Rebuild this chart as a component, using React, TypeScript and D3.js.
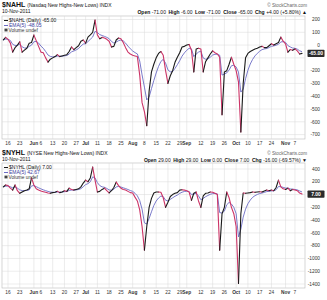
import React from "react";
import * as d3 from "d3";

// ---------- data ----------
const START_DATE = "2011-05-12";
const END_DATE = "2011-11-10";
const HOLIDAYS = ["2011-05-30", "2011-07-04", "2011-09-05"];

// $NAHL daily close (Nasdaq New Highs - New Lows)
const NAHL_VALUES = [
  40, 60, 45, 15, -55, -20, 0, 25, -55, -40,
  -25, 15, 20, 78, 35, -10, -55, -60, -100, -133,
  -110, -100, -90, -75, -90, -85, -80, -75, -50, -15,
  -35, -20, -5, 30, 40, 15, 62, 80, 100, 195,
  80, 50, 60, 55, 45, 30, -15, -10, 40, 55,
  50, 20, -20, -55, -70, -80, -85, -90, -235, -450,
  -520, -630, -360, -210, -150, -100, -65, -50, -80, -200,
  -300, -240, -200, -135, -95, -60, -15, -10, 0, 5,
  -40, -210, -30, -25, -30, -210, -130, -100, -70, -45,
  -60, -70, -95, -545, -210, -200, -150, -95, -150, -200,
  -290, -680, -300, -100, -65, -50, -40, -30, -25, -15,
  -10, -20, -20, -5, 10, 0, 10, 20, 62, 30,
  10, -55, -35, -40, -30, -45, -70, -65,
];

// $NYHL daily close (NYSE New Highs - New Lows)
const NYHL_VALUES = [
  120, 150, 140, 100, 70, 150, 60, 20, 40, 60,
  70, 90, 260, 150, 90, 70, 55, 45, 35, 25,
  20, 30, 35, 50, 30, 40, 60, 50, 100, 80,
  70, 80, 90, 120, 180, 225, 200, 260, 430, 225,
  40, 50, 80, 100, 60, 25, 60, 110, 195, 140,
  100, 80, 70, 50, 30, 25, -40, -100, -240, -500,
  -870, -500, -200, -60, 25, 40, 40, 35, -50, -200,
  -120, -30, 0, 20, 30, 70, 75, 70, 60, 40,
  -90, 20, 40, -100, -200, -20, 20, 25, 40, 35,
  20, 0, -870, -300, -200, 40, -50, -200, -300, -500,
  -1390, -300, 25, 20, 25, 30, 40, 35, 40, 45,
  40, 55, 70, 60, 70, 60, 110, 225, 120, 90,
  80, 100, 60, 80, 70, 60, 23, 7,
];

const X_TICKS = [
  { date: "2011-05-16", label: "16", bold: false },
  { date: "2011-05-23", label: "23", bold: false },
  { date: "2011-06-01", label: "Jun", bold: true },
  { date: "2011-06-06", label: "6", bold: false },
  { date: "2011-06-13", label: "13", bold: false },
  { date: "2011-06-20", label: "20", bold: false },
  { date: "2011-06-27", label: "27", bold: false },
  { date: "2011-07-01", label: "Jul", bold: true },
  { date: "2011-07-11", label: "11", bold: false },
  { date: "2011-07-18", label: "18", bold: false },
  { date: "2011-07-25", label: "25", bold: false },
  { date: "2011-08-01", label: "Aug", bold: true },
  { date: "2011-08-08", label: "8", bold: false },
  { date: "2011-08-15", label: "15", bold: false },
  { date: "2011-08-22", label: "22", bold: false },
  { date: "2011-08-29", label: "29", bold: false },
  { date: "2011-09-01", label: "Sep", bold: true },
  { date: "2011-09-12", label: "12", bold: false },
  { date: "2011-09-19", label: "19", bold: false },
  { date: "2011-09-26", label: "26", bold: false },
  { date: "2011-10-03", label: "Oct", bold: true },
  { date: "2011-10-10", label: "10", bold: false },
  { date: "2011-10-17", label: "17", bold: false },
  { date: "2011-10-24", label: "24", bold: false },
  { date: "2011-11-01", label: "Nov", bold: true },
  { date: "2011-11-07", label: "7", bold: false },
];

const TOP_Y_TICKS = [200, 100, 0, -100, -200, -300, -400, -500, -600, -700];
const BOTTOM_Y_TICKS = [400, 200, 0, -200, -400, -600, -800, -1000, -1200, -1400];

const TOP_INFO = {
  symbol: "$NAHL",
  name: "(Nasdaq New Highs-New Lows) INDX",
  date: "10-Nov-2011",
  ohlc: [["Open", "-71.00"], ["High", "-6.00"], ["Low", "-71.00"], ["Close", "-65.00"], ["Chg", "+4.00 (+5.80%) \u25B2"]],
  legendMain: "$NAHL (Daily) -65.00",
  legendEma: "EMA(5) -48.05",
  last: "-65.00",
};
const BOTTOM_INFO = {
  symbol: "$NYHL",
  name: "(NYSE New Highs-New Lows) INDX",
  date: "10-Nov-2011",
  ohlc: [["Open", "29.00"], ["High", "29.00"], ["Low", "0.00"], ["Close", "7.00"], ["Chg", "-16.00 (-69.57%) \u25BC"]],
  legendMain: "$NYHL (Daily) 7.00",
  legendEma: "EMA(5) 42.67",
  last: "7.00",
};

const EMA_PERIOD = 5;

// ---------- helpers ----------
const fmt = d3.timeFormat("%Y-%m-%d");
const parse = d3.timeParse("%Y-%m-%d");
const tradingDays = d3
  .timeDay.range(parse(START_DATE)!, d3.timeDay.offset(parse(END_DATE)!, 1))
  .filter((d) => d.getDay() !== 0 && d.getDay() !== 6 && !HOLIDAYS.includes(fmt(d)))
  .map(fmt);

function ema(values: number[], period: number) {
  const k = 2 / (period + 1);
  const out: number[] = [];
  values.forEach((v, i) => out.push(i === 0 ? v : out[i - 1] + k * (v - out[i - 1])));
  return out;
}

const FONT = "'Liberation Sans', Arial, sans-serif";
const UP = "#1a1a1a";
const DOWN = "#cc3366";
const EMA_COLOR = "#6b6bc4";
const GRID = "#d9d9d9";

const PLOT_L = 2;
const PLOT_R = 305;

const x = d3.scalePoint<string>().domain(tradingDays).range([3.3, 302]);

type PanelProps = {
  values: number[];
  info: typeof TOP_INFO;
  yTicks: number[];
  yDomain: [number, number];
  yRange: [number, number];
  top: number;
  plotTop: number;
  plotBottom: number;
};

function Panel({ values, info, yTicks, yDomain, yRange, top, plotTop, plotBottom }: PanelProps) {
  const y = d3.scaleLinear().domain(yDomain).range(yRange);
  const data = values.map((v, i) => ({ d: tradingDays[i], v }));
  const emaVals = ema(values, EMA_PERIOD);
  const line = d3
    .line<{ d: string; v: number }>()
    .x((p) => x(p.d)!)
    .y((p) => y(p.v));

  const runs: { up: boolean; pts: { d: string; v: number }[] }[] = [];
  for (let i = 1; i < data.length; i++) {
    const up = data[i].v >= data[i - 1].v;
    const last = runs[runs.length - 1];
    if (last && last.up === up) last.pts.push(data[i]);
    else runs.push({ up, pts: [data[i - 1], data[i]] });
  }
  const emaData = emaVals.map((v, i) => ({ d: tradingDays[i], v }));
  const lastY = y(values[values.length - 1]);
  const clipId = "clip" + top;

  return (
    <g>
      <text x={2} y={top + 7} fontFamily={FONT} fontSize={7} fontWeight="bold" fill="#111">
        {info.symbol}
        <tspan fontSize={5} fontWeight="normal" dx={2}>{info.name}</tspan>
      </text>
      <text x={307} y={top + 7} fontFamily={FONT} fontSize={4.6} fill="#666" textAnchor="end">
        {"\u00A9 StockCharts.com"}
      </text>
      <text x={2} y={top + 13} fontFamily={FONT} fontSize={5} fill="#111">{info.date}</text>
      <text x={307} y={top + 14} fontFamily={FONT} fontSize={5} fill="#111" textAnchor="end">
        {info.ohlc.map(([k, v], i) => (
          <React.Fragment key={k}>
            <tspan fontWeight="bold" dx={i === 0 ? 0 : 2.5}>{k}</tspan>
            <tspan dx={1.5}>{v}</tspan>
          </React.Fragment>
        ))}
      </text>

      <rect x={PLOT_L} y={plotTop} width={PLOT_R - PLOT_L} height={plotBottom - plotTop} fill="#fff" stroke="#bbb" strokeWidth={0.6} />
      {yTicks.map((t) => (
        <line key={"h" + t} x1={PLOT_L} x2={PLOT_R} y1={y(t)} y2={y(t)} stroke={GRID} strokeWidth={0.5} />
      ))}
      {X_TICKS.map((t) => (
        <line key={"v" + t.date} x1={x(t.date)} x2={x(t.date)} y1={plotTop} y2={plotBottom} stroke={GRID} strokeWidth={0.5} />
      ))}

      {yTicks
        .filter((t) => Math.abs(y(t) - lastY) > 5.5)
        .map((t) => (
          <text key={"yl" + t} x={320} y={y(t) + 1.7} fontFamily={FONT} fontSize={4.8} fill="#333" textAnchor="end">
            {t}
          </text>
        ))}

      {X_TICKS.map((t) => (
        <text key={"xl" + t.date} x={x(t.date)} y={plotBottom + 6} fontFamily={FONT} fontSize={4.8}
          fontWeight={t.bold ? "bold" : "normal"} fill="#333" textAnchor="middle">
          {t.label}
        </text>
      ))}

      <clipPath id={clipId}>
        <rect x={PLOT_L} y={plotTop} width={PLOT_R - PLOT_L} height={plotBottom - plotTop} />
      </clipPath>
      <g clipPath={`url(#${clipId})`}>
        <path d={line(emaData)!} fill="none" stroke={EMA_COLOR} strokeWidth={0.9} />
        {runs.map((r, i) => (
          <path key={i} d={line(r.pts)!} fill="none" stroke={r.up ? UP : DOWN} strokeWidth={1.1} strokeLinejoin="round" strokeLinecap="round" />
        ))}
      </g>

      <line x1={4} x2={8} y1={plotTop + 4.5} y2={plotTop + 4.5} stroke={UP} strokeWidth={1} />
      <text x={9} y={plotTop + 6.2} fontFamily={FONT} fontSize={5} fill="#111">{info.legendMain}</text>
      <line x1={4} x2={8} y1={plotTop + 9.5} y2={plotTop + 9.5} stroke={EMA_COLOR} strokeWidth={1} />
      <text x={9} y={plotTop + 11.2} fontFamily={FONT} fontSize={5} fill="#3c3ca0">{info.legendEma}</text>
      <rect x={4.5} y={plotTop + 12.6} width={3} height={2.8} fill="#444" />
      <text x={8.5} y={plotTop + 15.8} fontFamily={FONT} fontSize={4.8} fill="#333">Volume undef</text>

      <rect x={307.5} y={lastY - 3.6} width={17} height={7.2} fill="#2b2b2b" rx={0.8} />
      <text x={316} y={lastY + 1.8} fontFamily={FONT} fontSize={5} fill="#fff" textAnchor="middle" fontWeight="bold">
        {info.last}
      </text>
    </g>
  );
}

export default function App() {
  return (
    <svg width={327} height={300} style={{ position: "absolute", left: 0, top: 0, background: "#fff" }}>
      <rect x={0} y={0} width={327} height={300} fill="#fff" />
      <Panel values={NAHL_VALUES} info={TOP_INFO} yTicks={TOP_Y_TICKS} yDomain={[200, -700]} yRange={[19.5, 134.6]}
        top={0} plotTop={16} plotBottom={139} />
      <Panel values={NYHL_VALUES} info={BOTTOM_INFO} yTicks={BOTTOM_Y_TICKS} yDomain={[400, -1400]} yRange={[169, 284]}
        top={148} plotTop={163} plotBottom={288} />
    </svg>
  );
}
